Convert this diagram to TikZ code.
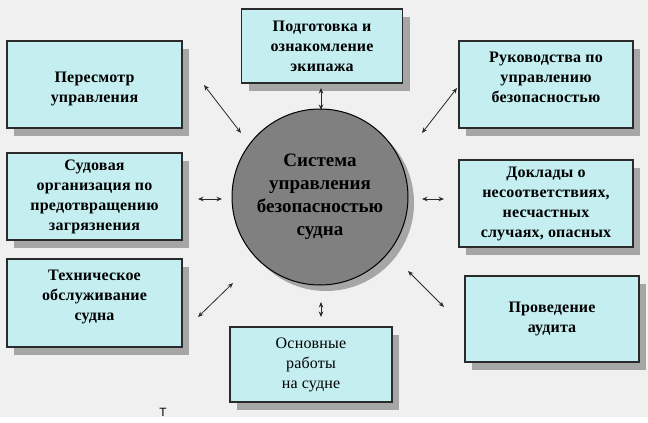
\documentclass[tikz,border=0pt]{standalone}
\usepackage{fontspec}
\setmainfont{Liberation Serif}
\newfontfamily\tsans{Liberation Sans}
\newfontfamily\boxfont[LetterSpace=1.2]{Liberation Serif}
\usetikzlibrary{arrows.meta,shadows}
\definecolor{bgc}{HTML}{F0F0F0}
\definecolor{boxfill}{HTML}{C4EEF0}
\definecolor{shadowc}{HTML}{A6A6A6}
\definecolor{circfill}{HTML}{808080}
\definecolor{edgec}{HTML}{2A2A2A}
\begin{document}
\begin{tikzpicture}[x=1pt,y=-1pt,
  boxtext/.style={align=center, inner sep=0pt, font=\boxfont\fontsize{16}{20}\selectfont\bfseries},
  infobox/.style={draw=edgec, line width=1.1pt, fill=boxfill, boxtext,
    minimum width=#1,
    drop shadow={shadow xshift=7pt, shadow yshift=-8pt, fill=shadowc, opacity=1}},
  boxh/.style={minimum height=#1},
  link/.style={draw=edgec, line width=0.8pt, {Stealth[length=5.5pt,width=4.5pt]}-{Stealth[length=5.5pt,width=4.5pt]}}
]
\useasboundingbox (0,0) rectangle (648,423);
\fill[white] (0,0) rectangle (648,423);
\fill[bgc] (0,0) rectangle (648,417);

% central circle
\node[circle, draw=black, line width=1pt, fill=circfill, minimum size=176pt, inner sep=0pt,
  drop shadow={shadow xshift=6pt, shadow yshift=-6pt, fill=shadowc, opacity=1},
  align=center, font=\fontsize{19}{23}\selectfont\bfseries] (c) at (320,197)
  {Система\\управления\\безопасностью\\судна};

% boxes
\node[infobox=175pt, boxh=87pt,
  label={[boxtext, yshift=-4pt]center:Пересмотр\\управления}] (b1) at (94.5,84.5) {};
\node[infobox=161pt, boxh=74pt] (b2) at (322,46) {Подготовка и\\ознакомление\\экипажа};
\node[infobox=174pt, boxh=87pt,
  label={[boxtext, yshift=7pt]center:Руководства по\\управлению\\безопасностью}] (b3) at (546,84.5) {};
\node[infobox=175pt, boxh=87pt] (b4) at (94.5,196.5) {Судовая\\организация по\\предотвращению\\загрязнения};
\node[infobox=174pt, boxh=87pt] (b5) at (546,203.5) {Доклады о\\несоответствиях,\\несчастных\\случаях, опасных};
\node[infobox=175pt, boxh=88pt,
  label={[boxtext, yshift=6pt]center:Техническое\\обслуживание\\судна}] (b6) at (94.5,303) {};
\node[infobox=162pt, boxh=75pt, font=\boxfont\fontsize{16}{20}\selectfont\mdseries] (b7) at (311,364.5) {Основные\\работы\\на судне};
\node[infobox=174pt, boxh=86pt] (b8) at (552,319) {Проведение\\аудита};

% arrow end points
\coordinate (a1s) at (204,85);  \coordinate (a1e) at (241,133);
\coordinate (a2s) at (321,88);  \coordinate (a2e) at (321,110);
\coordinate (a3s) at (457,88);  \coordinate (a3e) at (422,133);
\coordinate (a4s) at (198,199); \coordinate (a4e) at (222,199);
\coordinate (a5s) at (422,199); \coordinate (a5e) at (444,199);
\coordinate (a6s) at (198,317); \coordinate (a6e) at (233,283);
\coordinate (a7s) at (321,302); \coordinate (a7e) at (321,317);
\coordinate (a8s) at (408,271); \coordinate (a8e) at (444,307);

\draw[link] (a1s) -- (a1e);
\draw[link] (a2s) -- (a2e);
\draw[link] (a3s) -- (a3e);
\draw[link] (a4s) -- (a4e);
\draw[link] (a5s) -- (a5e);
\draw[link] (a6s) -- (a6e);
\draw[link] (a7s) -- (a7e);
\draw[link] (a8s) -- (a8e);

\node[font=\tsans\fontsize{12}{13}\selectfont, inner sep=0pt] (t) at (163,412) {Т};
\end{tikzpicture}
\end{document}
